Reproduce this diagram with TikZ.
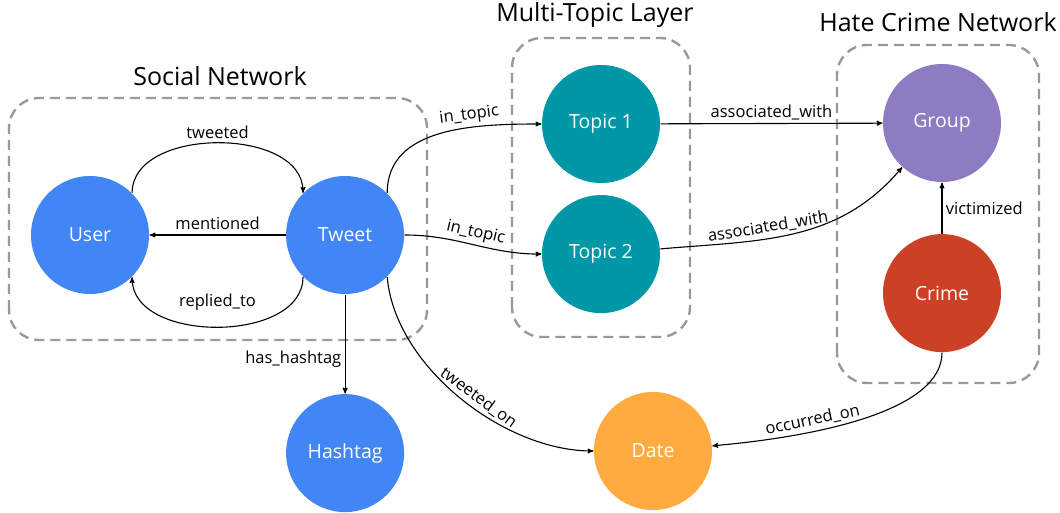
\documentclass[tikz,border=0pt]{standalone}
\usepackage{fontspec}
\setmainfont{Open Sans}
\usetikzlibrary{arrows,positioning}

\definecolor{nodeblue}{HTML}{4285F4}
\definecolor{topicteal}{HTML}{0097A7}
\definecolor{grouppurple}{HTML}{8E7CC3}
\definecolor{crimered}{HTML}{CC4125}
\definecolor{dateorange}{HTML}{FFAB40}
\definecolor{layergray}{HTML}{999999}

\begin{document}
\begin{tikzpicture}[->,>=stealth',x=1pt,y=1pt,line width=1.1pt,font=\fontsize{16.5}{19}\selectfont]
  \tikzstyle{entity}=[circle,fill=nodeblue,minimum size=118pt,inner sep=0pt,text=white,font=\fontsize{19.5}{22}\selectfont]
  \tikzstyle{layer}=[-,draw=layergray,line width=2.4pt,dash pattern=on 10pt off 6pt,rounded corners=30pt]
  \tikzstyle{title}=[anchor=base,font=\fontsize{25}{30}\selectfont]

  \useasboundingbox (0,0) rectangle (1060,512);

  % dashed layer boxes
  \draw[layer] (9,172) rectangle (427,414);
  \draw[layer] (512,175) rectangle (690,474);
  \draw[layer] (837,129) rectangle (1039,467);

  \node[title] (social) at (220,426) {Social Network};
  \node[title] (multi)  at (595,490) {Multi-Topic Layer};
  \node[title] (hate)   at (938,480) {Hate Crime Network};

  \node[entity]             (user)    at (90,277)              {User};
  \node[entity]             (tweet)   [right=136pt of user]    {Tweet};
  \node[entity]             (hashtag) [below=99pt of tweet]    {Hashtag};
  \node[entity,fill=topicteal]   (topic1)  at (601,388)        {Topic 1};
  \node[entity,fill=topicteal]   (topic2)  [below=11pt of topic1] {Topic 2};
  \node[entity,fill=grouppurple] (group)   at (942,389)        {Group};
  \node[entity,fill=crimered]    (crime)   [below=51pt of group] {Crime};
  \node[entity,fill=dateorange]  (date)    at (653,61)         {Date};

  \path
  (user.45) edge[out=90,in=90] node[above] {tweeted} (tweet.135)
  (tweet) edge node[above=1pt] {mentioned} (user)
  (tweet.225) edge[out=-90,in=-90] node[above=13pt] {replied\_to} (user.-45)
  (tweet.45) edge[out=90,in=180] node[above,sloped,pos=0.66] {in\_topic} (topic1)
  (tweet) edge[out=0,in=180] node[above,sloped] {in\_topic} (topic2)
  (tweet) edge node[left,pos=0.65] {has\_hashtag} (hashtag)
  (tweet.-45) edge[out=-85,in=180,looseness=0.85] node[above,sloped,pos=0.55] {tweeted\_on} (date)
  (topic1) edge node[above] {associated\_with} (group)
  (topic2) edge[out=5,in=230] node[above,sloped,pos=0.4] {associated\_with} (group.228)
  (crime) edge node[right] {victimized} (group)
  (crime) edge[out=-90,in=5,out looseness=0.6,in looseness=1.1] node[above,sloped,pos=0.68] {occurred\_on} (date);
\end{tikzpicture}
\end{document}
